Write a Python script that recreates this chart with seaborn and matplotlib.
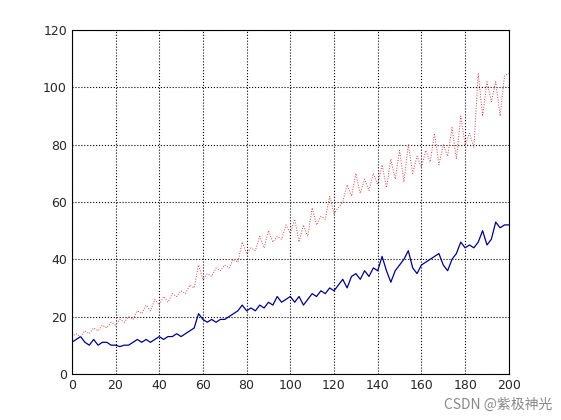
import numpy as np
import pandas as pd
import matplotlib
matplotlib.use("Agg")
import matplotlib.pyplot as plt
import seaborn as sns

# values, one every 2 x-units
x_vals = list(range(0, 201, 2))
blue_vals = [11, 12, 13, 11, 10, 12, 10, 11, 11, 10,
             10, 9.5, 10, 10, 11, 12, 11, 12, 11, 12,
             13, 12, 13, 13, 14, 13, 14, 15, 16, 21,
             19, 18, 19, 18, 19, 19, 20, 21, 22, 24,
             22, 23, 22, 24, 23, 25, 24, 27, 25, 26,
             27, 25, 27, 24, 26, 28, 27, 29, 28, 30,
             29, 31, 33, 30, 34, 35, 33, 36, 34, 37,
             36, 41, 36, 32, 36, 38, 40, 43, 37, 35,
             38, 39, 40, 41, 42, 38, 36, 40, 42, 46,
             44, 45, 44, 46, 50, 45, 47, 53, 51, 52, 52]
red_vals = [13, 14, 13, 15, 14, 16, 15, 17, 16, 18,
            17, 19, 18, 20, 19, 22, 21, 24, 22, 26,
            24, 27, 25, 28, 27, 29, 28, 31, 30, 38,
            33, 35, 34, 37, 36, 38, 37, 40, 39, 46,
            42, 44, 43, 48, 44, 50, 46, 48, 47, 52,
            49, 54, 46, 52, 48, 58, 52, 55, 54, 62,
            56, 58, 60, 66, 62, 70, 63, 68, 64, 70,
            66, 73, 65, 75, 68, 78, 67, 80, 70, 76,
            72, 78, 74, 84, 73, 80, 76, 86, 75, 90,
            80, 84, 79, 105, 90, 102, 95, 102, 90, 104, 105]

df = pd.DataFrame({"x": x_vals, "blue": blue_vals, "red": red_vals})

sns.set_style("white")
fig, ax = plt.subplots(figsize=(5.61, 4.20), dpi=100)
sns.lineplot(data=df, x="x", y="blue", ax=ax, color="#00008b", linewidth=0.9)
sns.lineplot(data=df, x="x", y="red", ax=ax, color="#d04040", linewidth=0.7, linestyle=":")

ax.set_xlim(0, 200)
ax.set_ylim(0, 120)
ax.set_xticks(range(0, 201, 20))
ax.set_yticks(range(0, 121, 20))
ax.set_xlabel("")
ax.set_ylabel("")
ax.grid(True, linestyle=":", color="black", linewidth=0.8)
ax.tick_params(direction="in", labelsize=9, length=4)
for s in ax.spines.values():
    s.set_color("black")
    s.set_linewidth(0.8)

fig.subplots_adjust(left=0.128, right=0.907, top=0.928, bottom=0.11)
fig.text(0.985, 0.02, "CSDN @紫极神光", ha="right", va="bottom", fontsize=10,
         color="#888888", family=["Noto Sans CJK SC", "DejaVu Sans"])
fig.savefig("out.png")
